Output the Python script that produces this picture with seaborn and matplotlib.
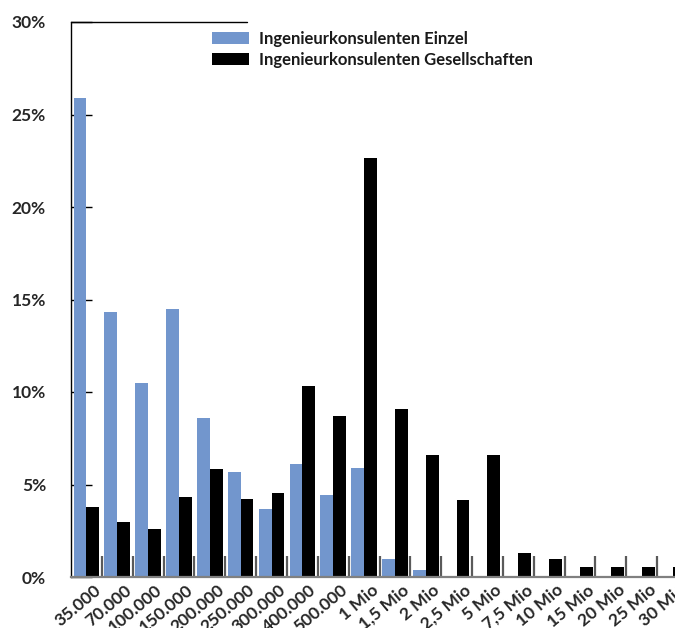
import numpy as np
import pandas as pd
import matplotlib
matplotlib.use("Agg")
import matplotlib.pyplot as plt
import matplotlib.transforms as mtransforms
import seaborn as sns

categories = ["35.000", "70.000", "100.000", "150.000", "200.000", "250.000",
              "300.000", "400.000", "500.000", "1 Mio", "1,5 Mio", "2 Mio",
              "2,5 Mio", "5 Mio", "7,5 Mio", "10 Mio", "15 Mio", "20 Mio",
              "25 Mio", "30 Mio"]
einzel = [25.9, 14.3, 10.5, 14.5, 8.6, 5.7, 3.65, 6.1, 4.45, 5.9, 1.0, 0.4,
          0, 0, 0, 0, 0, 0, 0, 0]
gesell = [3.8, 3.0, 2.6, 4.3, 5.85, 4.2, 4.55, 10.3, 8.7, 22.65, 9.1, 6.6,
          4.15, 6.6, 1.3, 0.95, 0.55, 0.55, 0.55, 0.55]
series_names = ["Ingenieurkonsulenten Einzel", "Ingenieurkonsulenten Gesellschaften"]
series_colors = ["#7296CD", "#000000"]
y_ticks = [0, 5, 10, 15, 20, 25, 30]

df = pd.DataFrame({
    "Kategorie": categories * 2,
    "Wert": einzel + gesell,
    "Serie": [series_names[0]] * len(categories) + [series_names[1]] * len(categories),
})

sns.set_style("white")
plt.rcParams["font.family"] = ["Lato", "DejaVu Sans"]
plt.rcParams["font.weight"] = "bold"
plt.rcParams["text.color"] = "#1a1a1a"

W, H = 675, 628
fig = plt.figure(figsize=(W / 100, H / 100), dpi=100)
ax_left, ax_right = 71.0, 688.0
ax_top, ax_bottom = 22.0, 577.0
ax = fig.add_axes([ax_left / W, 1 - ax_bottom / H, (ax_right - ax_left) / W, (ax_bottom - ax_top) / H])

sns.barplot(data=df, x="Kategorie", y="Wert", hue="Serie", order=categories,
            hue_order=series_names, palette=series_colors, width=0.83,
            saturation=1, ax=ax, legend=True, edgecolor="none", linewidth=0)

ax.set_xlim(-0.5, len(categories) - 0.5)
ax.set_ylim(0, 30)
ax.set_xlabel("")
ax.set_ylabel("")

ax.set_yticks(y_ticks)
ax.set_yticklabels([f"{v}%" for v in y_ticks])
ax.tick_params(axis="y", direction="in", length=15, width=1, color="#000000",
               pad=18, labelsize=12.5, left=True)

ax.set_xticks(range(len(categories)))
ax.set_xticklabels(categories, rotation=40, ha="right", rotation_mode="anchor",
                   va="center")
ax.tick_params(axis="x", which="major", length=0, pad=8, labelsize=12.5, bottom=True)
ax.set_xticks(np.arange(0.5, len(categories) - 0.5, 1.0), minor=True)
ax.tick_params(axis="x", which="minor", direction="in", length=15, width=1.6,
               color="#5a5a5a", bottom=True)

offset = mtransforms.ScaledTranslation(12 / 100, 0, fig.dpi_scale_trans)
for lab in ax.get_xticklabels():
    lab.set_transform(lab.get_transform() + offset)

ax.spines["left"].set_visible(True)
ax.spines["left"].set_color("#000000")
ax.spines["left"].set_linewidth(1.0)
ax.spines["bottom"].set_visible(True)
ax.spines["bottom"].set_color("#808080")
ax.spines["bottom"].set_linewidth(1.6)
ax.spines["top"].set_visible(False)
ax.spines["right"].set_visible(False)
ax.axhline(30, xmin=0, xmax=(247 - ax_left) / (ax_right - ax_left),
           color="#000000", lw=1.0, clip_on=False, zorder=5)

handles, labels = ax.get_legend_handles_labels()
ax.legend(handles, labels, loc="upper left",
          bbox_to_anchor=(212 / W, 1 - 31 / H), bbox_transform=fig.transFigure,
          frameon=False, borderpad=0, borderaxespad=0, fontsize=12,
          handlelength=2.2, handleheight=0.7, handletextpad=0.6,
          labelspacing=0.3)

fig.savefig("out.png", dpi=100)
